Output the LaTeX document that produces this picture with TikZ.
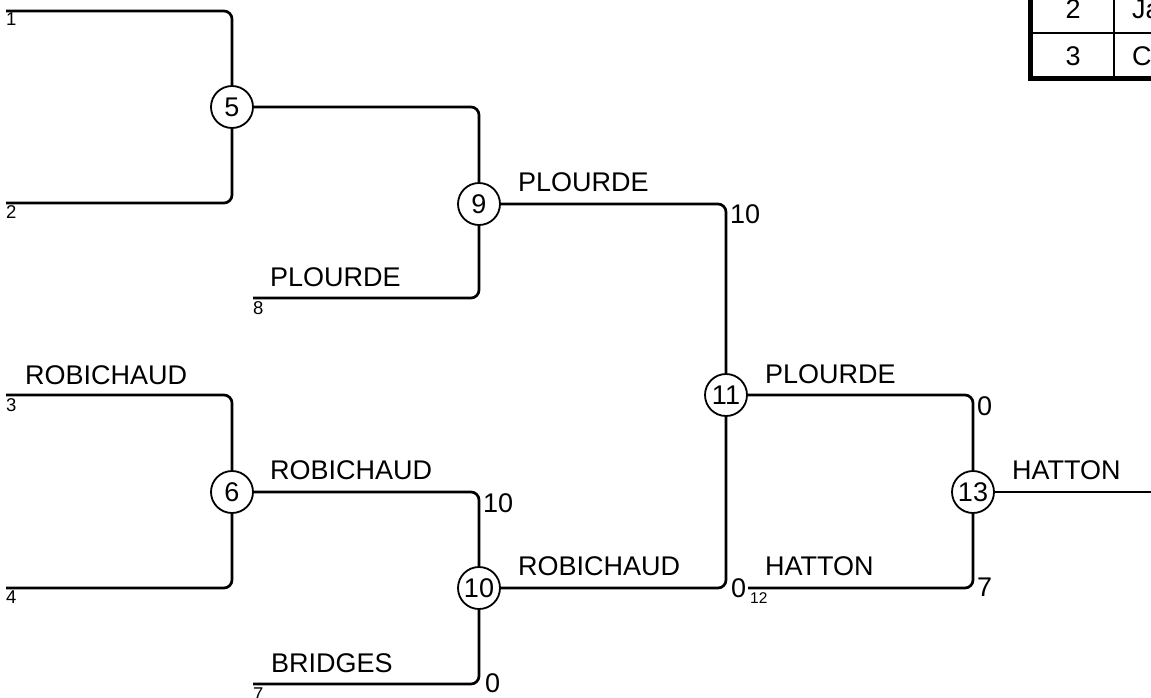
\documentclass[tikz,border=0pt]{standalone}
\usepackage{fontspec}
\setmainfont{Liberation Sans}
\usetikzlibrary{positioning}
\begin{document}
\begin{tikzpicture}[x=1pt,y=-1pt,
  game/.style={circle,draw,line width=1.8pt,fill=white,minimum size=42pt,inner sep=0pt,font=\fontsize{27}{30}\selectfont},
  slot/.style={line width=2.7pt,rounded corners=8pt},
  who/.style={anchor=base west,inner sep=0pt,font=\fontsize{27}{32}\selectfont},
  pts/.style={anchor=base west,inner sep=0pt,font=\fontsize{27}{30}\selectfont},
  seed/.style={anchor=north west,inner sep=0pt,font=\fontsize{18.5}{20}\selectfont}]
\useasboundingbox (0,0) rectangle (1151,697);
% entry lines
\coordinate (s1) at (6,11);
\coordinate (s2) at (6,203);
\coordinate (s3) at (6,395);
\coordinate (s4) at (6,588);
\coordinate (s8) at (253,298);
\coordinate (s7) at (253,684);
\coordinate (s12) at (748,588);
\coordinate (fin) at (1151,492);
% games
\node[game] (g5) at (232,107) {5};
\node[game] (g6) at (232,492) {6};
\node[game] (g9) at (479,204) {9};
\node[game] (g10) at (479,588) {10};
\node[game] (g11) at (726,395) {11};
\node[game] (g13) at (973,492) {13};
% bracket lines
\draw[slot] (s1) -| (g5);
\draw[slot] (s2) -| (g5);
\draw[slot] (s3) -| (g6);
\draw[slot] (s4) -| (g6);
\draw[slot] (g5) -| (g9);
\draw[slot] (s8) -| (g9);
\draw[slot] (g6) -| (g10);
\draw[slot] (s7) -| (g10);
\draw[slot] (g9) -| (g11);
\draw[slot] (g10) -| (g11);
\draw[slot] (g11) -| (g13);
\draw[slot] (s12) -| (g13);
\draw[slot] (g13) -- (fin);
% seed numbers
\node[seed] (n1) at (6,13) {1};
\node[seed] (n2) at (6,205) {2};
\node[seed] (n3) at (6,398) {3};
\node[seed] (n4) at (6,591) {4};
\node[seed] (n8) at (253,301) {8};
\node[seed] (n7) at (253,688) {7};
\node[seed,font=\fontsize{15.5}{18}\selectfont] (n12) at (750,592) {12};
% player names
\node[who] (p8) at (270,286) {PLOURDE};
\node[who] (p9) at (518,191) {PLOURDE};
\node[who] (p11) at (765,383) {PLOURDE};
\node[who] (p3) at (25,384) {ROBICHAUD};
\node[who] (p6) at (270,479) {ROBICHAUD};
\node[who] (p10) at (518,575) {ROBICHAUD};
\node[who] (p7) at (271,672) {BRIDGES};
\node[who] (p12) at (765,575) {HATTON};
\node[who] (p13) at (1012,479) {HATTON};
% scores
\node[pts] (c9) at (730,223) {10};
\node[pts] (c6) at (483,512) {10};
\node[pts] (c7) at (485,692) {0};
\node[pts] (c10) at (731,597) {0};
\node[pts] (c11) at (977,415) {0};
\node[pts] (c12) at (977,596) {7};
% results table
\draw[line width=1.8pt] (1030,33) -- (1170,33) (1114,-10) -- (1114,78);
\draw[line width=5pt] (1030,-10) -- (1030,78) -- (1170,78);
\node[pts,anchor=base] (t2) at (1073,18) {2};
\node[pts,anchor=base] (t3) at (1073,65) {3};
\node[pts] (u2) at (1132,18) {Ja};
\node[pts] (u3) at (1132,65) {C};
\end{tikzpicture}
\end{document}
